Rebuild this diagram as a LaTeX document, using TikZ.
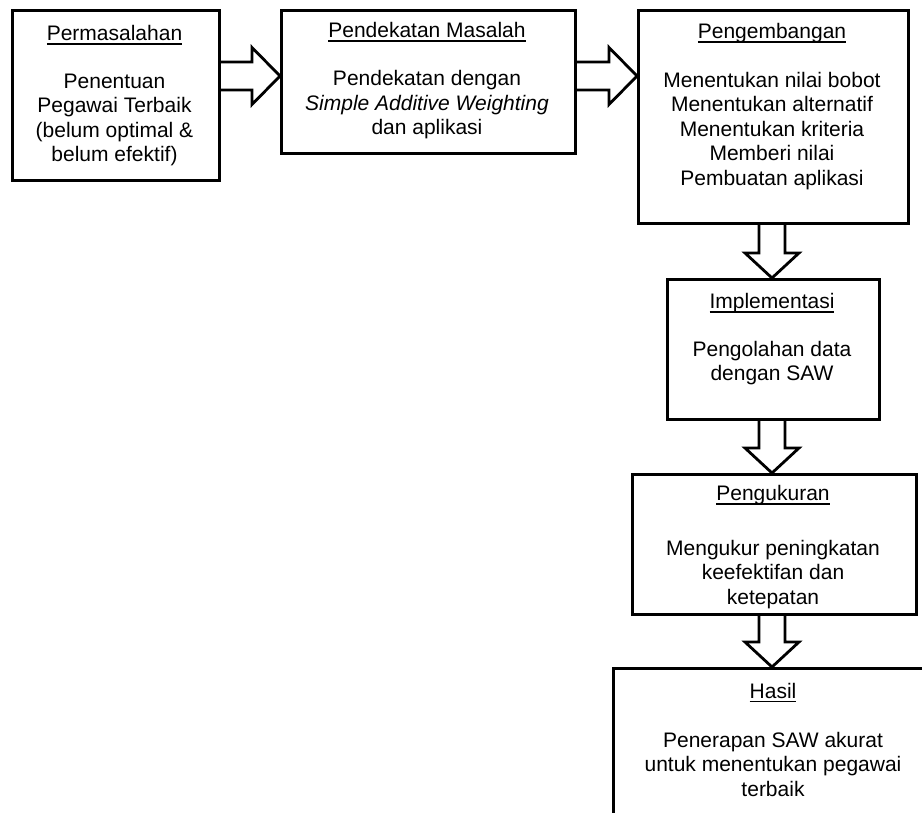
\documentclass[tikz,border=0pt]{standalone}
\usepackage{fontspec}
\setmainfont{Liberation Sans}
\usetikzlibrary{calc}

\newcommand{\judul}[1]{\setbox0\hbox{#1}\rlap{\rule[-4.3pt]{\wd0}{1.4pt}}\box0}
% panah blok ke kanan dan ke bawah
\newcommand{\panahkanan}[2]{%
  \draw[panah] ($(#1)+(0,14)$) -- ($(#2)+(-28,14)$) -- ($(#2)+(-28,28.5)$) -- (#2)
    -- ($(#2)+(-28,-28.5)$) -- ($(#2)+(-28,-14)$) -- ($(#1)+(0,-14)$);}
\newcommand{\panahbawah}[2]{%
  \draw[panah] ($(#1)+(-13,0)$) -- ($(#2)+(-13,-25)$) -- ($(#2)+(-27,-25)$) -- (#2)
    -- ($(#2)+(27,-25)$) -- ($(#2)+(13,-25)$) -- ($(#1)+(13,0)$);}

\begin{document}
\begin{tikzpicture}[x=1pt, y=-1pt,
  kotak/.style = {draw, line width=2.8pt, inner sep=0pt, anchor=north west},
  teks/.style = {align=center, inner sep=0pt, anchor=base},
  panah/.style = {line width=2.8pt, line join=miter},
  font=\fontsize{21pt}{24.5pt}\selectfont]
  \clip (0,0) rectangle (922,813);
  \coordinate (baris) at (0,76);
  \coordinate (kolom) at (772,0);

  % teks diletakkan pada garis dasar baris terakhir
  \node[kotak, minimum width=207pt, minimum height=170pt] (perm) at (11,9) {};
  \node[teks] (permteks) at (114.5,162) {\judul{Permasalahan}\\[23.5pt]
    Penentuan\\Pegawai Terbaik\\(belum optimal \&\\belum efektif)};

  \node[kotak, minimum width=294pt, minimum height=143pt] (pend) at (280,9) {};
  \node[teks] (pendteks) at (427,135) {\judul{Pendekatan Masalah}\\[24pt]
    Pendekatan dengan\\\textit{Simple Additive Weighting}\\dan aplikasi};

  \node[kotak, minimum width=270pt, minimum height=213pt] (pengem) at (637,9) {};
  \node[teks] (pengemteks) at (772,185.5) {\judul{Pengembangan}\\[24.5pt]
    Menentukan nilai bobot\\Menentukan alternatif\\Menentukan kriteria\\Memberi nilai\\Pembuatan aplikasi};

  \node[kotak, minimum width=212pt, minimum height=140pt] (impl) at (666,278) {};
  \node[teks] (implteks) at (772,381) {\judul{Implementasi}\\[23.5pt]
    Pengolahan data\\dengan SAW};

  \node[kotak, minimum width=284pt, minimum height=140pt] (ukur) at (631,473) {};
  \node[teks] (ukurteks) at (773,604) {\judul{Pengukuran}\\[30pt]
    Mengukur peningkatan\\keefektifan dan\\ketepatan};

  \node[kotak, minimum width=322pt, minimum height=200pt] (hasil) at (612,667) {};
  \node[teks] (hasilteks) at (773,796) {\judul{Hasil}\\[24.5pt]
    Penerapan SAW akurat\\untuk menentukan pegawai\\terbaik};

  \panahkanan{perm.east |- baris}{pend.west |- baris}
  \panahkanan{pend.east |- baris}{pengem.west |- baris}
  \panahbawah{pengem.south -| kolom}{impl.north -| kolom}
  \panahbawah{impl.south -| kolom}{ukur.north -| kolom}
  \panahbawah{ukur.south -| kolom}{hasil.north -| kolom}
\end{tikzpicture}
\end{document}
